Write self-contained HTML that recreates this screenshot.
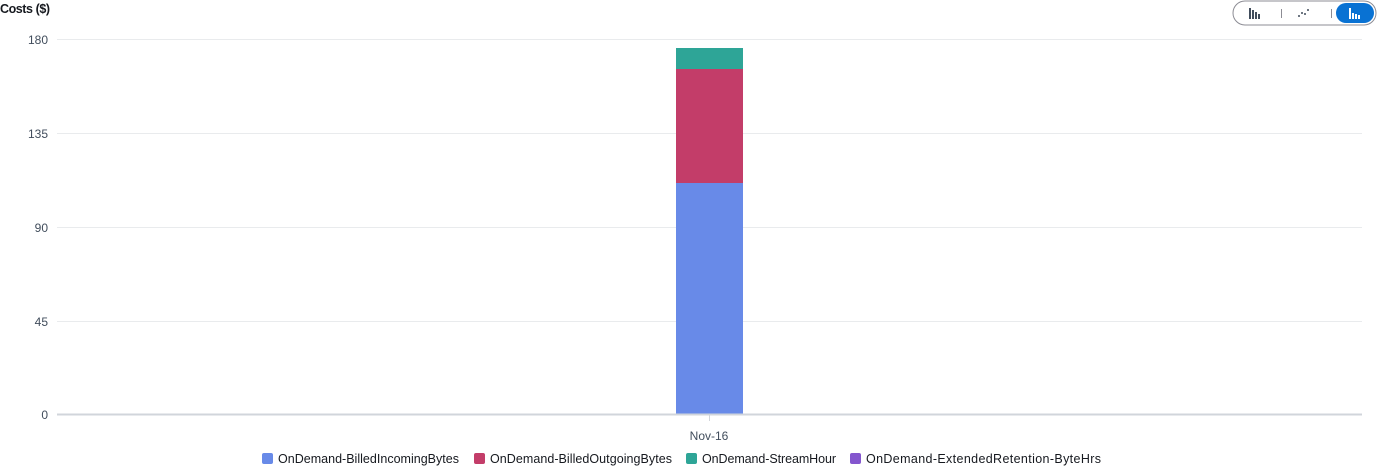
<!DOCTYPE html>
<html><head><style>
body{margin:0;background:#fff;width:1380px;height:466px;overflow:hidden;font-family:"Liberation Sans",sans-serif;}
</style></head><body>
<svg width="1380" height="466" xmlns="http://www.w3.org/2000/svg" font-family="Liberation Sans, sans-serif">
<text x="0" y="13" font-size="12.5" font-weight="bold" fill="#16191f" textLength="50">Costs ($)</text>
<g stroke="#e9ebed" stroke-width="1">
<line x1="57" y1="39.5" x2="1362" y2="39.5"/>
<line x1="57" y1="133.5" x2="1362" y2="133.5"/>
<line x1="57" y1="227.5" x2="1362" y2="227.5"/>
<line x1="57" y1="321.5" x2="1362" y2="321.5"/>
</g>
<g font-size="12" fill="#414d5c" text-anchor="end">
<text x="48" y="44">180</text>
<text x="48" y="138">135</text>
<text x="48" y="232">90</text>
<text x="48" y="326">45</text>
<text x="48" y="419">0</text>
</g>
<rect x="676" y="183" width="67" height="231" fill="#688ae8"/>
<rect x="676" y="69" width="67" height="114" fill="#c33d69"/>
<rect x="676" y="48" width="67" height="21" fill="#2ea597"/>
<line x1="57" y1="414.5" x2="1362" y2="414.5" stroke="#d1d5db" stroke-width="2"/>
<line x1="709.5" y1="415" x2="709.5" y2="421" stroke="#d1d5db"/>
<text x="709" y="440" font-size="12" fill="#414d5c" text-anchor="middle">Nov-16</text>
<g font-size="12.5" fill="#16191f">
<rect x="262" y="453" width="11" height="11" rx="2" fill="#688ae8"/><text x="278" y="463" textLength="181">OnDemand-BilledIncomingBytes</text>
<rect x="474" y="453" width="11" height="11" rx="2" fill="#c33d69"/><text x="490" y="463" textLength="182">OnDemand-BilledOutgoingBytes</text>
<rect x="686" y="453" width="11" height="11" rx="2" fill="#2ea597"/><text x="702" y="463" textLength="134">OnDemand-StreamHour</text>
<rect x="850" y="453" width="11" height="11" rx="2" fill="#8456ce"/><text x="866" y="463" textLength="235">OnDemand-ExtendedRetention-ByteHrs</text>
</g>
<rect x="1233" y="1" width="143" height="24" rx="12" fill="#fff" stroke="#8c8c94"/>
<g fill="#414d5c">
<rect x="1249" y="8" width="2" height="11"/><rect x="1252" y="10" width="2" height="9"/><rect x="1255" y="12" width="2" height="7"/><rect x="1258" y="14" width="2" height="5"/>
<circle cx="1299" cy="16" r="1"/><circle cx="1302" cy="13" r="1"/><circle cx="1305" cy="14" r="1"/><circle cx="1308" cy="10" r="1"/>
</g>
<line x1="1281.5" y1="9" x2="1281.5" y2="18" stroke="#8c8c94"/>
<line x1="1331.5" y1="9" x2="1331.5" y2="18" stroke="#8c8c94"/>
<rect x="1336" y="3" width="38" height="20" rx="10" fill="#0972d3"/>
<g fill="#fff"><rect x="1349" y="8" width="2" height="11"/><rect x="1352" y="13" width="2" height="6"/><rect x="1355" y="14" width="2" height="5"/><rect x="1358" y="15" width="2" height="4"/></g>
</svg>
</body></html>
